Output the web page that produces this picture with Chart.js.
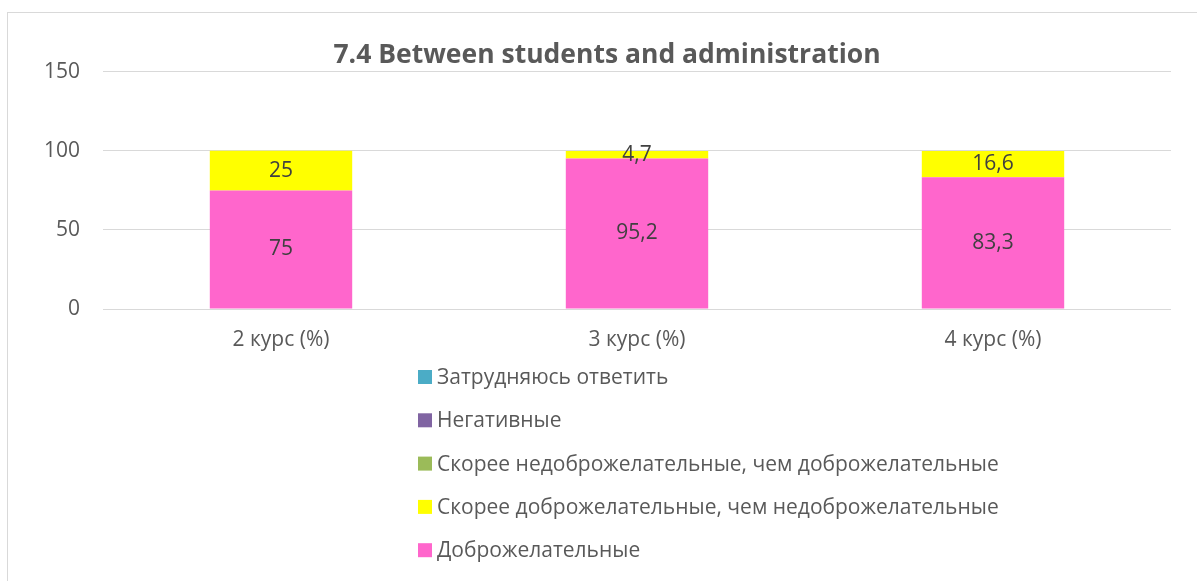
<!DOCTYPE html>
<html>
<head>
<meta charset="utf-8">
<script src="https://cdn.jsdelivr.net/npm/chart.js@4"></script>
<style>
  html, body { margin: 0; padding: 0; background: #fff; }
  #wrap { position: relative; width: 1197px; height: 581px; overflow: hidden; }
  #frame { position: absolute; left: 7px; top: 12px; width: 1300px; height: 700px; border: 1px solid #d9d9d9; }
  #c { position: absolute; left: 0; top: 0; }
</style>
</head>
<body>
<div id="wrap">
  <div id="frame"></div>
  <canvas id="c" width="1197" height="581"></canvas>
</div>
<script>
const kursy = ['2 курс (%)', '3 курс (%)', '4 курс (%)'];
const dobro = [75, 95.2, 83.3];
const skoreeDobro = [25, 4.7, 16.6];
const skoreeNedobro = [0, 0, 0];
const negativnye = [0, 0, 0];
const zatrud = [0, 0, 0];
const yTicks = [0, 50, 100, 150];

const FONT = "'Open Sans', 'Noto Sans', sans-serif";

// подписи значений в центре сегментов
const barLabels = {
  id: 'barLabels',
  afterDatasetsDraw(chart) {
    const ctx = chart.ctx;
    ctx.save();
    ctx.font = '21px ' + FONT;
    ctx.fillStyle = '#404040';
    ctx.textAlign = 'center';
    ctx.textBaseline = 'middle';
    chart.data.datasets.forEach((ds, i) => {
      const meta = chart.getDatasetMeta(i);
      meta.data.forEach((bar, j) => {
        const v = ds.data[j];
        if (!v) return;
        const y = (bar.y + bar.base) / 2;
        ctx.fillText(String(v).replace('.', ','), bar.x, y);
      });
    });
    ctx.restore();
  }
};

// легенда столбиком, в обратном порядке
const colLegend = {
  id: 'colLegend',
  afterDraw(chart) {
    const ctx = chart.ctx;
    const ds = chart.data.datasets.slice().reverse();
    ctx.save();
    ctx.font = '21px ' + FONT;
    ctx.textBaseline = 'middle';
    ds.forEach((d, k) => {
      const y = 377 + k * 43.3;
      ctx.fillStyle = d.backgroundColor;
      ctx.fillRect(418, y - 7, 14, 14);
      ctx.fillStyle = '#595959';
      ctx.fillText(d.label, 437, y + 1);
    });
    ctx.restore();
  }
};

new Chart(document.getElementById('c'), {
  type: 'bar',
  data: {
    labels: kursy,
    datasets: [
      { label: 'Доброжелательные', data: dobro, backgroundColor: '#FF66CC' },
      { label: 'Скорее доброжелательные, чем недоброжелательные', data: skoreeDobro, backgroundColor: '#FFFF00' },
      { label: 'Скорее недоброжелательные, чем доброжелательные', data: skoreeNedobro, backgroundColor: '#9BBB59' },
      { label: 'Негативные', data: negativnye, backgroundColor: '#8064A2' },
      { label: 'Затрудняюсь ответить', data: zatrud, backgroundColor: '#4BACC6' }
    ]
  },
  options: {
    responsive: false,
    animation: false,
    datasets: { bar: { categoryPercentage: 1, barPercentage: 0.4, borderWidth: 0 } },
    layout: { padding: { left: 43, right: 26, top: 0, bottom: 226 } },
    plugins: {
      legend: { display: false },
      tooltip: { enabled: false },
      title: {
        display: true,
        text: '7.4 Between students and administration',
        color: '#595959',
        font: { family: FONT, size: 26.5, weight: 'bold' },
        padding: { top: 40, bottom: 0 }
      }
    },
    scales: {
      x: {
        stacked: true,
        grid: { display: false, drawTicks: false },
        border: { display: false },
        ticks: { color: '#595959', font: { family: FONT, size: 21 }, padding: 18 },
        afterFit(axis) { axis.height = 46; }
      },
      y: {
        stacked: true,
        min: 0,
        max: 150,
        afterBuildTicks(axis) { axis.ticks = yTicks.map(v => ({ value: v })); },
        grid: { color: '#d9d9d9', lineWidth: 1, drawTicks: false },
        border: { display: false },
        ticks: { color: '#595959', font: { family: FONT, size: 21 }, padding: 23 },
        afterFit(axis) { axis.width = 60; }
      }
    }
  },
  plugins: [barLabels, colLegend]
});
</script>
</body>
</html>
